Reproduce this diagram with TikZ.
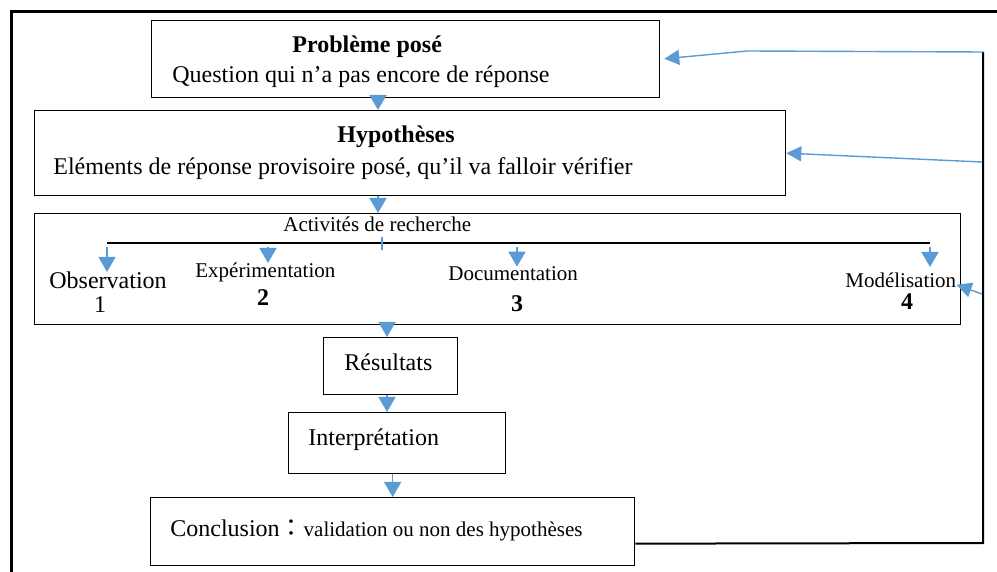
\documentclass[tikz,border=0pt]{standalone}
\usepackage{fontspec}
\setmainfont{Liberation Serif}
\newfontfamily\cjk{Noto Sans CJK JP}
\usetikzlibrary{arrows.meta}
\definecolor{wordblue}{RGB}{91,155,213}
\tikzset{
  box/.style={draw, line width=0.65pt, inner sep=0pt, anchor=north west},
  txt/.style={inner sep=0pt, anchor=base west, font=\fontsize{12}{14}\selectfont},
  small/.style={txt, font=\fontsize{10.5}{12}\selectfont},
  num/.style={inner sep=0pt, anchor=base, font=\fontsize{12}{14}\selectfont},
  flow/.style={wordblue, line width=0.8pt, -{Triangle[length=7.5pt,width=8.5pt]}},
  back/.style={wordblue, line width=0.7pt, -{Triangle[length=7.5pt,width=7.5pt]}}
}
\begin{document}
\begin{tikzpicture}[x=0.5pt,y=-0.5pt]
  \useasboundingbox (0,0) rectangle (997,572);
  % page frame
  \draw[line width=1.5pt] (11,572) -- (11,12) -- (997,12);

  % boxes
  \node[box, minimum width=254pt, minimum height=38.5pt] (pb) at (151,20) {};
  \node[box, minimum width=375.5pt, minimum height=42.5pt] (hyp) at (34,110) {};
  \node[box, minimum width=463pt, minimum height=55.5pt] (act) at (34,213) {};
  \node[box, minimum width=67pt, minimum height=28.5pt] (res) at (323,337) {};
  \node[box, minimum width=108.5pt, minimum height=30.5pt] (interp) at (288,412) {};
  \node[box, minimum width=242pt, minimum height=34pt] (concl) at (150,497) {};

  % texts
  \node[txt] (pb-title) at (292,53) {\textbf{Problème posé}};
  \node[txt] (pb-text) at (172,83) {Question qui n’a pas encore de réponse};
  \node[txt] (hyp-title) at (337,143) {\textbf{Hypothèses}};
  \node[txt] (hyp-text) at (53,175) {Eléments de réponse provisoire posé, qu’il va falloir vérifier};
  \node[small] (act-title) at (283,232) {Activités de recherche};
  \node[txt] (obs) at (49,289) {Observation};
  \node[num] (n1) at (100,313) {1};
  \node[small] (exp) at (195,278) {Expérimentation};
  \node[num] (n2) at (263,306) {\textbf{2}};
  \node[small] (doc) at (448,281) {Documentation};
  \node[num] (n3) at (517,312) {\textbf{3}};
  \node[small] (mod) at (845,288) {Modélisation};
  \node[num] (n4) at (907,310) {\textbf{4}};
  \node[txt] (res-text) at (344,371) {Résultats};
  \node[txt] (interp-text) at (308,445) {Interprétation};
  \node[txt] (concl-text) at (170,537) {Conclusion{\cjk ：}\fontsize{10.5}{12}\selectfont validation ou non des hypothèses};

  % research bar
  \coordinate (b1) at (107,243);
  \coordinate (b2) at (268,243);
  \coordinate (b3) at (517,243);
  \coordinate (b4) at (930,243);
  \coordinate (tick) at (382,237);
  \draw[line width=1pt] (b1) -- (b4);
  \draw[wordblue, line width=0.8pt] (tick) -- ++(0,13);
  \draw[flow, shorten <=2pt] (b1) -- (b1 |- obs.north);
  \draw[flow, shorten <=2pt] (b2) -- (b2 |- exp.north);
  \draw[flow, shorten <=2pt] (b3) -- (b3 |- doc.north);
  \draw[flow, shorten <=2pt, shorten >=3pt] (b4) -- (b4 |- mod.north);

  % main flow
  \coordinate (c1) at (378,0);
  \coordinate (c2) at (387,0);
  \draw[flow] (pb.south -| c1) -- (hyp.north -| c1);
  \draw[flow] (hyp.south -| c1) -- (act.north -| c1);
  \draw[flow] (act.south -| c2) -- (res.north -| c2);
  \draw[flow] (res.south -| c2) -- (interp.north -| c2);
  \draw[flow] (interp.south -| concl.north) -- (concl.north);

  % feedback
  \coordinate (rt) at (983,52);
  \coordinate (rb) at (983,543);
  \coordinate (kink) at (747,51);
  \coordinate (rh) at (982,162);
  \coordinate (rm) at (982,294);
  \draw[line width=1pt] ([yshift=-6pt]concl.east) -- (rb) -- (rt);
  \draw[back, shorten >=2pt] (rt) -- (kink) -- (pb.east);
  \draw[back] (rh) -- (hyp.east);
  \draw[back] (rm) -- ([yshift=-2pt]mod.east);
\end{tikzpicture}
\end{document}
